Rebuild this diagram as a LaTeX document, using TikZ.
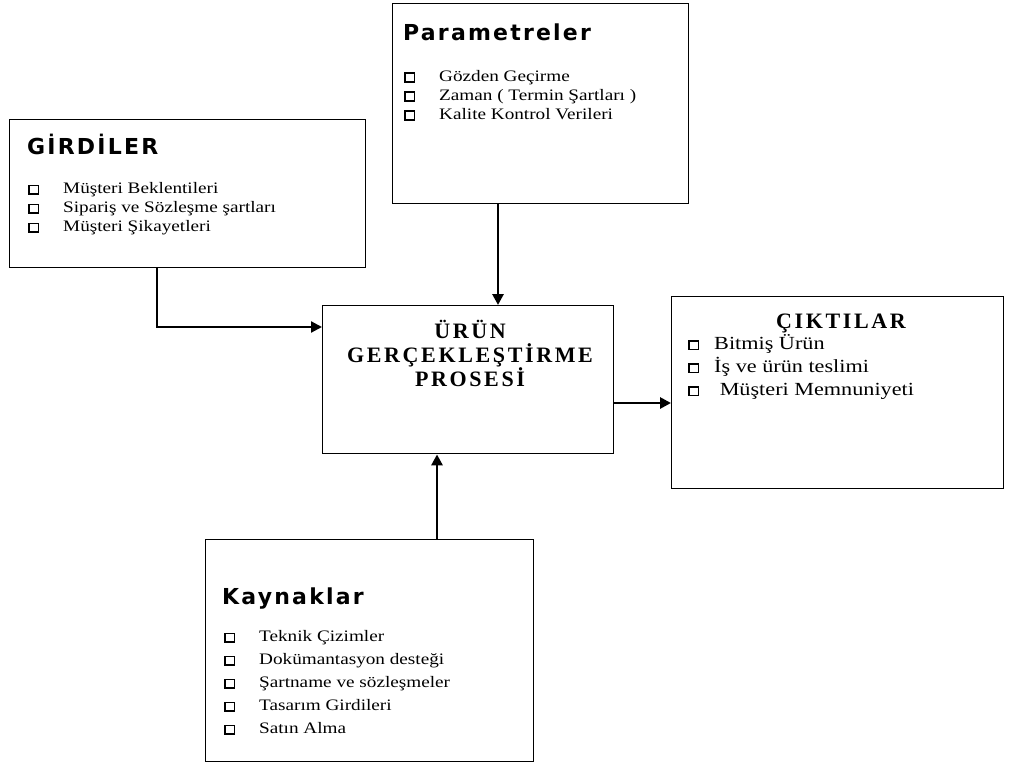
\documentclass[tikz,border=0pt]{standalone}
\usepackage{fontspec}
\setmainfont{Liberation Serif}[FakeStretch=1.2]
\newfontfamily\headfont[LetterSpace=10]{DejaVu Sans Bold}
\newfontfamily\titlefont[LetterSpace=12]{Liberation Serif Bold}
\newfontfamily\subtitlefont[LetterSpace=12]{Liberation Serif Bold}
\usetikzlibrary{arrows.meta}

% hollow square used as the list mark
\newcommand\sqmark{{\setlength\fboxrule{1.3pt}\setlength\fboxsep{0pt}\fbox{\rule{0pt}{7.5pt}\hspace{8.5pt}}}}
% one list entry: the mark, then the text
\newcommand\itm[2][35pt]{\makebox[#1][l]{\sqmark}#2}

\tikzset{
  box/.style={draw=black, line width=1.4pt, fill=white, inner sep=0pt, anchor=north west},
  head/.style={font=\headfont\fontsize{22}{22}\selectfont, inner sep=0pt, anchor=base west},
  items/.style={font=\fontsize{16}{19}\selectfont, align=left, inner sep=0pt, anchor=north west},
  bigitems/.style={font=\fontsize{18.5}{23}\selectfont, align=left, inner sep=0pt, anchor=north west},
  title/.style={font=\titlefont\fontsize{22}{24}\selectfont, align=center, inner sep=0pt},
  subtitle/.style={font=\subtitlefont\fontsize{22}{22}\selectfont, inner sep=0pt},
  flow/.style={line width=2.8pt, -{Triangle[length=11pt,width=11pt]}},
  thinflow/.style={line width=2.2pt, -{Triangle[length=11pt,width=11pt]}}
}

\begin{document}
\begin{tikzpicture}[x=1pt, y=-1pt]
\useasboundingbox[fill=white] (0,0) rectangle (1011,762);

% boxes
\node[box, minimum width=296pt, minimum height=200pt] (par) at (392,3) {};
\node[box, minimum width=356pt, minimum height=148pt] (gir) at (9,119) {};
\node[box, minimum width=291pt, minimum height=148pt] (ctr) at (322,305) {};
\node[box, minimum width=332pt, minimum height=192pt] (cik) at (671,296) {};
\node[box, minimum width=328pt, minimum height=222pt] (kay) at (205,539) {};

% Parametreler
\node[head] (parh) at (403,41) {Parametreler};
\node[items] (parl) at (404,70) {\itm{Gözden Geçirme}\\ \itm{Zaman ( Termin Şartları )}\\ \itm{Kalite Kontrol Verileri}};

% GİRDİLER
\node[head] (girh) at (27,155) {GİRDİLER};
\node[items] (girl) at (28,182) {\itm{Müşteri Beklentileri}\\ \itm{Sipariş ve Sözleşme şartları}\\ \itm{Müşteri Şikayetleri}};

% process
\node[title, anchor=north] (ctrt) at (470,320) {ÜRÜN\\ GERÇEKLEŞTİRME\\ PROSESİ};

% ÇIKTILAR
\node[subtitle, anchor=base] (cikh) at (841,328) {ÇIKTILAR};
\node[bigitems] (cikl) at (688,334) {\itm[26pt]{Bitmiş Ürün}\\ \itm[26pt]{İş ve ürün teslimi}\\ \itm[26pt]{\ Müşteri Memnuniyeti}};

% Kaynaklar
\node[head] (kayh) at (222,604) {Kaynaklar};
\node[items] (kayl) at (224,630) {\itm{Teknik Çizimler}\\[4pt] \itm{Dokümantasyon desteği}\\[4pt] \itm{Şartname ve sözleşmeler}\\[4pt] \itm{Tasarım Girdileri}\\[4pt] \itm{Satın Alma}};

% connectors
\coordinate (bend) at (157,327);
\draw[thinflow] (gir.south -| bend) -- (bend) -- (bend -| ctr.west);
\draw[flow] (498,0 |- par.south) -- (498,0 |- ctr.north);
\draw[flow] (437,0 |- kay.north) -- (437,0 |- ctr.south);
\draw[flow] (0,403 -| ctr.east) -- (0,403 -| cik.west);
\end{tikzpicture}
\end{document}
